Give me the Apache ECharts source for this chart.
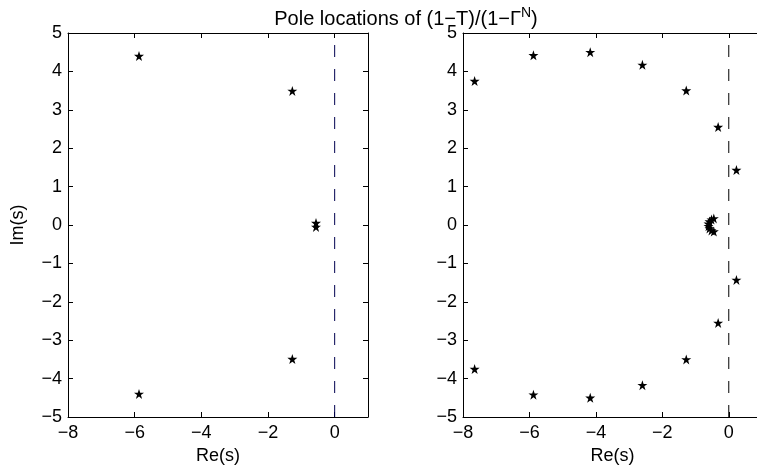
<!DOCTYPE html>
<html><head><meta charset="utf-8">
<script src="https://cdn.jsdelivr.net/npm/echarts@6/dist/echarts.min.js"></script>
<style>html,body{margin:0;padding:0;background:#fff}#c{width:757px;height:475px}</style>
</head><body><div id="c"></div>
<script>
// Left panel poles
const leftRe = [-5.87, -1.27, -0.56, -0.56, -1.27, -5.87];
const leftIm = [4.40, 3.49, 0.05, -0.05, -3.49, -4.40];
// Right panel poles (outer ring + cluster near origin)
const rightRe = [-7.65, -5.88, -4.17, -2.60, -1.28, -0.32, 0.23,
                 0.23, -0.32, -1.28, -2.60, -4.17, -5.88, -7.65,
                 -0.45, -0.52, -0.58, -0.61, -0.61, -0.58, -0.52, -0.45];
const rightIm = [3.75, 4.42, 4.50, 4.17, 3.50, 2.55, 1.43,
                 -1.43, -2.55, -3.50, -4.17, -4.50, -4.42, -3.75,
                 0.17, 0.14, 0.09, 0.03, -0.03, -0.09, -0.14, -0.17];
const xTickLabels = [-8, -6, -4, -2, 0];
const yTickLabels = [-5, -4, -3, -2, -1, 0, 1, 2, 3, 4, 5];
const xRange = [-8, 1];
const yRange = [-5, 5];
const dashX = 0;

const FONT = 'Liberation Sans';
const FS = 18;
const star = 'path://M12,0 L14.9,8.6 L24,8.6 L16.6,14 L19.4,22.8 L12,17.4 L4.6,22.8 L7.4,14 L0,8.6 L9.1,8.6 Z';
const fmt = v => (v < 0 ? '\u2212' + Math.abs(v) : String(v));
const axLine = {show: true, onZero: false, lineStyle: {color: '#000', width: 1}};
const tick = {show: true, inside: true, length: 5, lineStyle: {color: '#000', width: 1}};

function xAx(grid, top, name) {
  return {
    type: 'value', gridIndex: grid, position: top ? 'top' : 'bottom',
    min: xRange[0], max: xRange[1], interval: 2,
    axisLine: axLine, axisTick: tick, splitLine: {show: false},
    axisLabel: top ? {show: false} : {
      show: true, margin: 7, color: '#000', fontFamily: FONT, fontSize: FS,
      formatter: v => xTickLabels.includes(v) ? fmt(v) : ''
    },
    name: top ? '' : name, nameLocation: 'middle', nameGap: 28,
    nameTextStyle: {color: '#000', fontFamily: FONT, fontSize: FS}
  };
}
function yAx(grid, right, name) {
  return {
    type: 'value', gridIndex: grid, position: right ? 'right' : 'left',
    min: yRange[0], max: yRange[1], interval: 1,
    axisLine: axLine, axisTick: tick, splitLine: {show: false},
    axisLabel: right ? {show: false} : {
      show: true, margin: 6, color: '#000', fontFamily: FONT, fontSize: FS,
      formatter: v => yTickLabels.includes(v) ? fmt(v) : ''
    },
    name: right ? '' : name, nameLocation: 'middle', nameGap: 41,
    nameTextStyle: {color: '#000', fontFamily: FONT, fontSize: FS}
  };
}

const chart = echarts.init(document.getElementById('c'), null, {renderer: 'canvas'});
chart.setOption({
  animation: false,
  backgroundColor: '#fff',
  title: {
    left: 401, top: 1, textAlign: 'center',
    text: '{a|Pole locations of (1\u2212T)/(1\u2212\u0393}{s|N}{a|)}',
    textStyle: {
      fontWeight: 'normal',
      rich: {
        a: {fontFamily: FONT, fontSize: 20, fontWeight: 'normal', color: '#000', verticalAlign: 'bottom'},
        s: {fontFamily: FONT, fontSize: 14, fontWeight: 'normal', color: '#000', verticalAlign: 'bottom', padding: [0, 0, 9, 0]}
      }
    }
  },
  grid: [
    {left: 68, top: 33, width: 300, height: 384, containLabel: false, outerBoundsMode: 'none'},
    {left: 463, top: 33, width: 299, height: 384, containLabel: false, outerBoundsMode: 'none'}
  ],
  xAxis: [xAx(0, false, 'Re(s)'), xAx(0, true), xAx(1, false, 'Re(s)'), xAx(1, true)],
  yAxis: [yAx(0, false, 'Im(s)'), yAx(0, true), yAx(1, false, ''), yAx(1, true)],
  series: [
    {type: 'line', xAxisIndex: 0, yAxisIndex: 0, data: [[dashX, yRange[0]], [dashX, yRange[1]]],
     symbol: 'none', lineStyle: {color: '#000050', width: 1, type: [12, 12]}, silent: true},
    {type: 'line', xAxisIndex: 2, yAxisIndex: 2, data: [[dashX, yRange[0]], [dashX, yRange[1]]],
     symbol: 'none', lineStyle: {color: '#000', width: 1, type: [12, 12]}, silent: true},
    {type: 'scatter', xAxisIndex: 0, yAxisIndex: 0, symbol: star, symbolSize: 10,
     itemStyle: {color: '#000', opacity: 1}, data: leftRe.map((x, i) => [x, leftIm[i]])},
    {type: 'scatter', xAxisIndex: 2, yAxisIndex: 2, symbol: star, symbolSize: 10,
     itemStyle: {color: '#000', opacity: 1}, data: rightRe.map((x, i) => [x, rightIm[i]])}
  ]
});
</script></body></html>
